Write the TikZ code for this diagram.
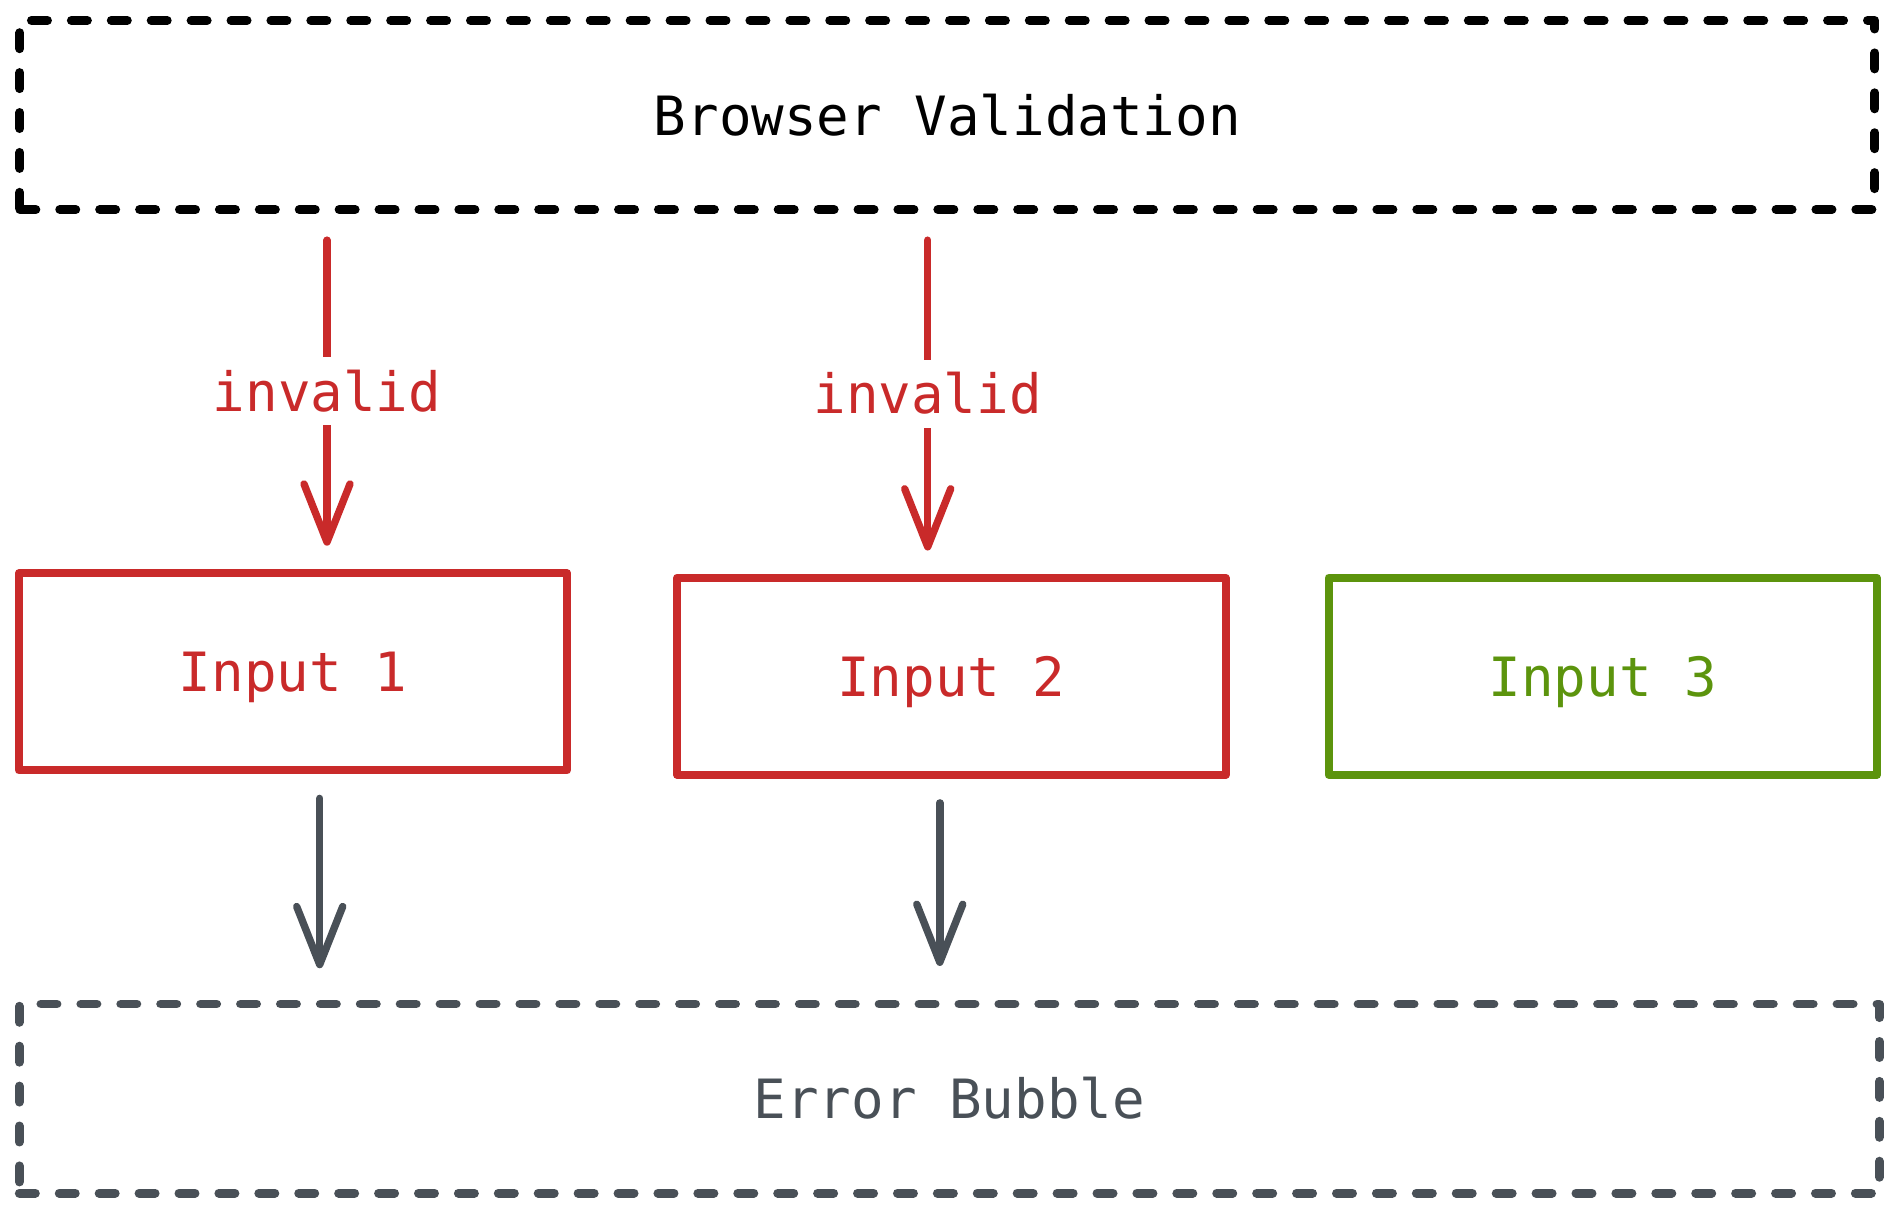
\documentclass[tikz,border=0pt]{standalone}
\usepackage{fontspec}
\setmonofont{DejaVu Sans Mono}
\usepackage{tikz}
\usetikzlibrary{arrows.meta, positioning}
\definecolor{errred}{HTML}{C92A2A}
\definecolor{okgreen}{HTML}{5C940D}
\definecolor{slate}{HTML}{495057}
\tikzset{
  dashbox/.style = {
    rectangle, draw, line width=2.55pt, outer sep=0pt,
    line cap=round, line join=round,
    dash pattern=on 4.55pt off 6.8pt,
    minimum width=18.54cm, minimum height=1.89cm,
    font=\ttfamily\fontsize{15.4}{18}\selectfont
  },
  inbox/.style = {
    rectangle, draw, line width=2.3pt, line join=round, outer sep=0pt,
    minimum width=5.48cm, minimum height=1.97cm, text depth=0pt,
    font=\ttfamily\fontsize{15.4}{18}\selectfont
  },
  lbl/.style = {
    fill=white, inner xsep=0.05cm, inner ysep=0.13cm,
    text=errred, font=\ttfamily\fontsize{15.4}{18}\selectfont
  },
  redarr/.style  = {-{Straight Barb[length=0.58cm, width=0.46cm, round]},
                    line width=2.1pt, line cap=round, errred},
  grayarr/.style = {-{Straight Barb[length=0.58cm, width=0.46cm, round]},
                    line width=2.1pt, line cap=round, slate}
}

\begin{document}
\begin{tikzpicture}[x=0.01cm, y=-0.01cm]
\useasboundingbox (0,0) rectangle (1899,1213);

%% the three inputs
\node[inbox, draw=errred, text=errred] (in1) at (293,671.8) {Input 1};
\node[inbox, draw=errred, text=errred, right=1.1cm of in1, yshift=-0.045cm] (in2) {Input 2};
\node[inbox, draw=okgreen, text=okgreen, right=1.03cm of in2] (in3) {Input 3};

%% validation on top, bubble below
\node[dashbox, draw=black, above=3.68cm of in2, xshift=-0.04cm] (browser) {Browser Validation};
\node[dashbox, draw=slate, text=slate, below=2.29cm of in2, xshift=-0.02cm, minimum width=18.59cm] (bubble) {Error Bubble};

%% arrow columns
\coordinate (c1) at (327,0);
\coordinate (c2) at (927.7,0);
\coordinate (c3) at (319.7,0);
\coordinate (c4) at (939.8,0);

%% invalid arrows
\draw[redarr, shorten <=0.306cm, shorten >=0.275cm]
  (browser.south -| c1) -- node[lbl] {invalid} (in1.north -| c1);
\draw[redarr, shorten <=0.306cm, shorten >=0.272cm]
  (browser.south -| c2) -- node[lbl] {invalid} (in2.north -| c2);

%% to the error bubble
\draw[grayarr, shorten <=0.28cm, shorten >=0.357cm] (in1.south -| c3) -- (bubble.north -| c3);
\draw[grayarr, shorten <=0.28cm, shorten >=0.38cm] (in2.south -| c4) -- (bubble.north -| c4);

\end{tikzpicture}
\end{document}
